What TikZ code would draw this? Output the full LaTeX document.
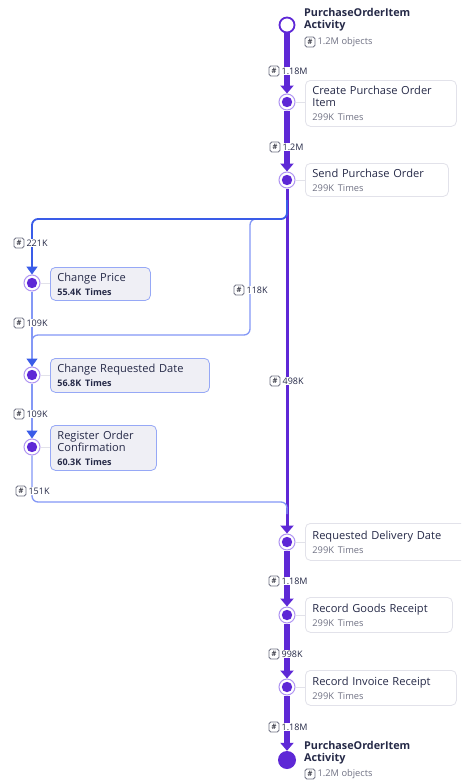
\documentclass[tikz,border=0pt]{standalone}
\usepackage{fontspec}
\setmainfont{Open Sans}
\usetikzlibrary{arrows.meta}
\definecolor{pur}{RGB}{94,40,214}
\definecolor{ringc}{RGB}{175,148,242}
\definecolor{blu}{RGB}{58,92,232}
\definecolor{lblu}{RGB}{132,152,246}
\definecolor{navy}{RGB}{38,42,72}
\definecolor{grayt}{RGB}{112,114,132}
\definecolor{boxb}{RGB}{226,226,234}
\definecolor{bfill}{RGB}{239,239,245}
\definecolor{bbord}{RGB}{150,168,246}
\newcommand\cntlabel[4]{%
  \node[hashbox] (#1h) at (#2,#3) {\#};
  \node[lbltext] (#1) at ([xshift=1.2pt]#1h.east) {#4};}
\newcommand\subl[1]{\\[2pt]{\fontsize{9.3}{10}\selectfont\color{grayt}#1}}
\newcommand\subb[1]{\\[2pt]{\fontsize{9}{10}\selectfont\bfseries\color{navy}#1}}
\tikzset{
  x=1pt,y=-1pt,
  ring/.style={circle, draw=ringc, line width=1pt, fill=white, minimum size=16pt, inner sep=0pt},
  mainbox/.style={draw=boxb, line width=0.8pt, rounded corners=5pt, fill=white, anchor=north west,
     align=left, inner xsep=7pt, inner ysep=3pt, text=navy, font=\fontsize{11.1}{12}\selectfont},
  brbox/.style={mainbox, draw=bbord, fill=bfill},
  hashbox/.style={draw=grayt, rounded corners=1.8pt, fill=white, inner sep=0pt, minimum size=10pt,
     font=\fontsize{7.5}{7.5}\selectfont\bfseries, text=grayt!60!black, line width=0.8pt},
  lbltext/.style={inner sep=0.8pt, fill=white, font=\fontsize{9}{9}\selectfont, text=navy, anchor=west},
  spinebig/.style={draw=pur, line width=6pt, -{Triangle[width=13pt,length=8pt]}},
  spinethin/.style={draw=pur, line width=3pt, -{Triangle[width=13pt,length=8pt]}},
  bluebig/.style={draw=blu, line width=1.8pt, rounded corners=6pt},
  bluethin/.style={draw=lblu, line width=1.3pt, rounded corners=6pt},
  bluetip/.style={-{Triangle[width=11pt,length=8pt,color=blu]}},
  stub/.style={draw=boxb, line width=0.8pt},
  titlet/.style={anchor=north west, align=left, inner sep=0pt, text=navy,
     font=\fontsize{10.8}{12}\selectfont\bfseries},
  objt/.style={lbltext, text=grayt, font=\fontsize{9.3}{10}\selectfont}
}
\begin{document}
\begin{tikzpicture}
\clip (0,0) rectangle (461,782);
\fill[white] (0,0) rectangle (461,782);
% activity nodes (rings)
\node[circle, draw=pur, line width=1.8pt, fill=white, minimum size=15pt, inner sep=0pt] (start) at (287,25) {};
\node[ring] (cpi) at (287,102) {};
\node[ring] (spo) at (287,180) {};
\node[ring] (cp) at (32,283) {};
\node[ring] (crd) at (32,375) {};
\node[ring] (roc) at (32,447) {};
\node[ring] (rdd) at (287,542) {};
\node[ring] (rgr) at (287,615) {};
\node[ring] (rir) at (287,687) {};
\node[circle, fill=pur, minimum size=18pt, inner sep=0pt] (end) at (287,760) {};
% coordinates for branch routing
\coordinate (s1) at (287,200);
\coordinate (j1) at (287,219);
\coordinate (j2) at (32,219);
\coordinate (k1) at (250,219);
\coordinate (k2) at (250,335);
\coordinate (k3) at (32,335);
\coordinate (m1) at (32,502);
\coordinate (m2) at (287,502);
\coordinate (m3) at (287,514);
% spine
\draw[spinebig] (start) -- (cpi);
\draw[spinebig] (cpi) -- (spo);
\draw[spinethin] (spo) -- (rdd);
\draw[spinebig] (rdd) -- (rgr);
\draw[spinebig, line width=5.5pt] (rgr) -- (rir);
\draw[spinebig] (rir) -- (end);
% branches
\draw[bluethin] (s1) -- (j1) -- (k1) -- (k2) -- (k3) -- (crd);
\draw[bluebig, bluetip] (s1) -- (j1) -- (j2) -- (cp);
\draw[bluethin, bluetip] (cp) -- (crd);
\draw[bluethin, bluetip] (crd) -- (roc);
\draw[bluethin] (roc) -- (m1) -- (m2) -- (m3);
% inner dots
\foreach \n in {cpi,spo,cp,crd,roc,rdd,rgr,rir} {\fill[pur] (\n) circle (5.2);}
% boxes
\node[mainbox, minimum width=151pt, minimum height=46pt, text width=137pt] (bcpi) at (305,80)
  {Create Purchase Order\\Item\subl{299K Times}};
\node[mainbox, minimum width=143pt, minimum height=33pt, text width=129pt] (bspo) at (305,163)
  {Send Purchase Order\subl{299K Times}};
\node[brbox, minimum width=100pt, minimum height=33pt, text width=86pt] (bcp) at (50,267)
  {Change Price\subb{55.4K Times}};
\node[brbox, minimum width=159pt, minimum height=34pt, text width=145pt] (bcrd) at (50,358)
  {Change Requested Date\subb{56.8K Times}};
\node[brbox, minimum width=106pt, minimum height=45pt, text width=92pt] (broc) at (50,425)
  {Register Order\\Confirmation\subb{60.3K Times}};
\node[mainbox, minimum width=165pt, minimum height=37pt, text width=151pt] (brdd) at (305,523)
  {Requested Delivery Date\subl{299K Times}};
\node[mainbox, minimum width=147pt, minimum height=35pt, text width=133pt] (brgr) at (305,597)
  {Record Goods Receipt\subl{299K Times}};
\node[mainbox, minimum width=151pt, minimum height=35pt, text width=137pt] (brir) at (305,670)
  {Record Invoice Receipt\subl{299K Times}};
% stubs ring -> box
\foreach \n in {cpi,spo,cp,crd,roc,rdd,rgr,rir} {\draw[stub] (\n.east) -- (b\n.west |- \n);}
% titles
\node[titlet] (ttop) at (304,8) {PurchaseOrderItem\\Activity};
\node[titlet] (tend) at (304,741) {PurchaseOrderItem\\Activity};
\node[hashbox] (otoph) at (310,42) {\#};
\node[objt] (otop) at ([xshift=1.2pt]otoph.east) {1.2M objects};
\node[hashbox] (oendh) at (310,774) {\#};
\node[objt] (oend) at ([xshift=1.2pt]oendh.east) {1.2M objects};
% connector labels
\cntlabel{l1}{274}{71}{1.18M}
\cntlabel{l2}{275}{147}{1.2M}
\cntlabel{l3}{19}{243}{221K}
\cntlabel{l4}{19}{323}{109K}
\cntlabel{l5}{239}{290}{118K}
\cntlabel{l6}{275}{381}{498K}
\cntlabel{l7}{19}{414}{109K}
\cntlabel{l8}{21}{491}{151K}
\cntlabel{l9}{274}{581}{1.18M}
\cntlabel{l10}{274}{654}{998K}
\cntlabel{l11}{274}{727}{1.18M}
\end{tikzpicture}
\end{document}
